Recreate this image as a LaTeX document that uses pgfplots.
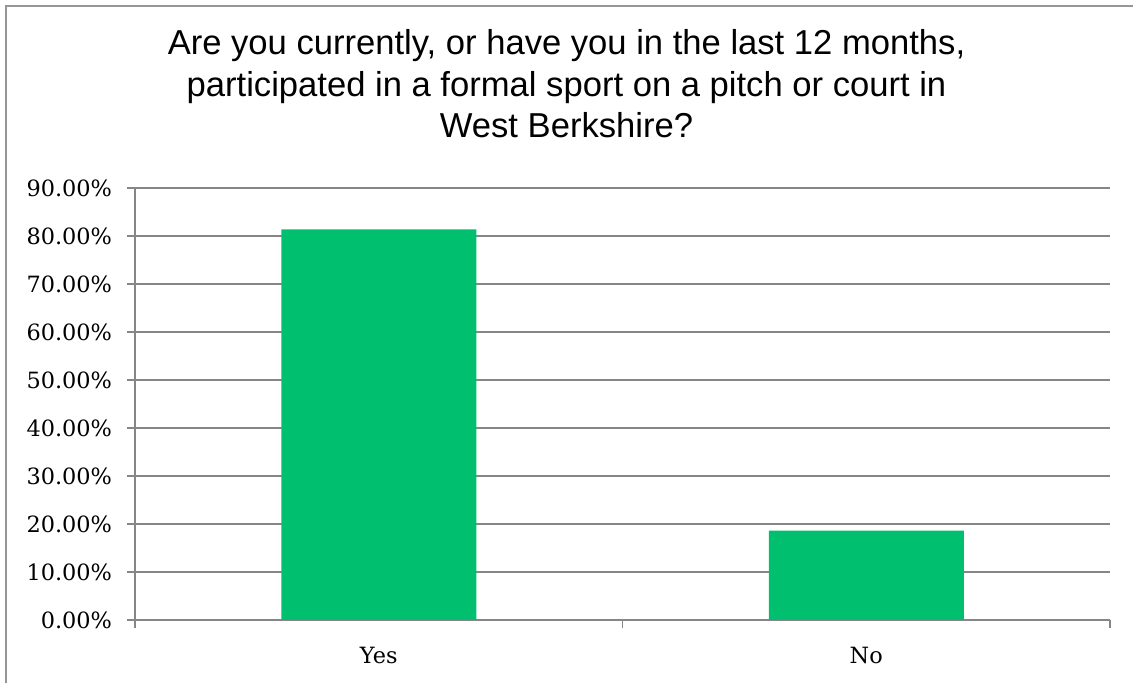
\documentclass[border=0pt]{standalone}
\usepackage{fontspec}
\setmainfont{Liberation Sans}
\newfontfamily\tickfont{DejaVu Serif}
\usepackage{pgfplots}
\pgfplotsset{compat=1.18}
\definecolor{bargreen}{RGB}{0,192,112}
\definecolor{gridgray}{RGB}{134,134,134}
\definecolor{framegray}{RGB}{150,150,150}
\begin{document}
\begin{tikzpicture}
\useasboundingbox (0,0) rectangle (566.5bp,341.5bp);
\draw[framegray, line width=1bp] (2.9bp,-20bp) rectangle (620bp,338.6bp);
\begin{axis}[
  at={(67.5bp,31.5bp)}, anchor=south west,
  scale only axis, width=487.5bp, height=216bp,
  ymin=0, ymax=90, ytick={0,10,...,90},
  xmin=0.5, xmax=2.5,
  axis x line*=bottom, axis y line*=left,
  axis line style={-, gridgray, line width=0.8bp},
  ymajorgrids, grid style={gridgray, line width=0.8bp},
  tick align=outside, major tick length=4bp,
  tick style={gridgray, line width=0.8bp},
  xtick={0.5,1.5,2.5}, xticklabels={},
  extra x ticks={1,2}, extra x tick labels={Yes,No},
  extra x tick style={major tick length=0pt, xticklabel style={yshift=-10bp}},
  yticklabel={\pgfmathprintnumber[fixed,fixed zerofill,precision=2]{\tick}\%},
  /pgf/number format/assume math mode=true,
  tick label style={font=\tickfont\fontsize{11.2bp}{13bp}\selectfont, text=black},
  yticklabel style={xshift=-4bp},
  bar width=0.4, ybar,
]
\addplot[fill=bargreen, draw=none] coordinates {(1,81.4) (2,18.6)};
\end{axis}
\begin{scope}[font=\fontsize{17.3bp}{20.75bp}\selectfont]
\node[anchor=base] at (283.25bp,314bp) {Are you currently, or have you in the last 12 months,};
\node[anchor=base] at (283.25bp,293.25bp) {participated in a formal sport on a pitch or court in};
\node[anchor=base] at (283.25bp,272.5bp) {West Berkshire?};
\end{scope}
\end{tikzpicture}
\end{document}
